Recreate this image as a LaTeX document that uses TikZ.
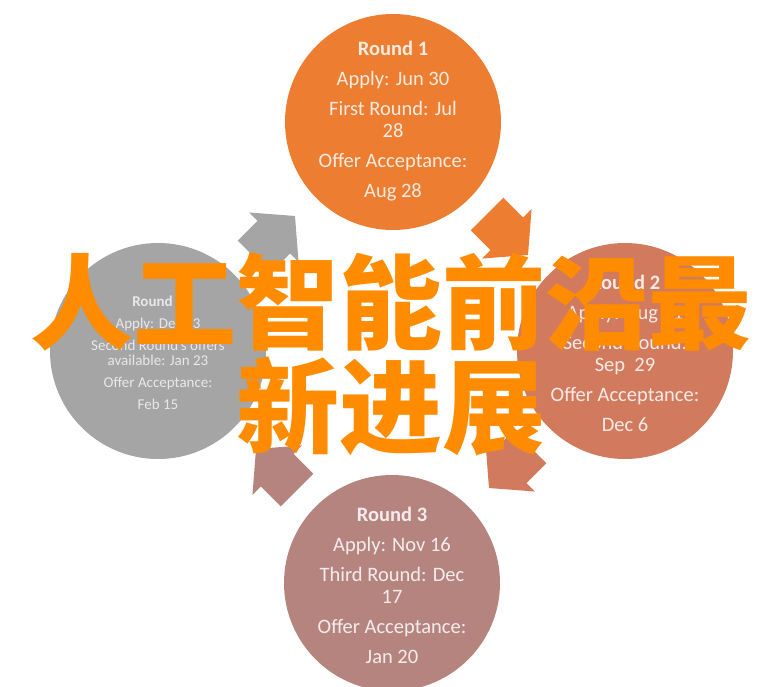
\documentclass[tikz,border=0pt]{standalone}
\usepackage{fontspec}
\setmainfont{Carlito}
\newfontfamily\cjk{Noto Sans CJK SC}
\begin{document}
\begin{tikzpicture}[x=1pt,y=-1pt]
\definecolor{cOrange}{HTML}{ED7D31}
\definecolor{cRust}{HTML}{D27A5D}
\definecolor{cRose}{HTML}{B5847F}
\definecolor{cGray}{HTML}{A5A5A5}
\definecolor{cTitle}{HTML}{FF8C00}
\tikzset{
  roundc/.style={circle,minimum size=216pt,inner sep=0pt},
  bigtxt/.style={align=center,text=white,text opacity=0.85,
    font=\fontsize{20.5}{22}\selectfont},
  smalltxt/.style={align=center,text=white,text opacity=0.75,
    font=\fontsize{15}{15}\selectfont},
  titletxt/.style={text=cTitle,font=\cjk\bfseries\fontsize{103}{103}\selectfont,inner sep=0pt}
}
\useasboundingbox (0,0) rectangle (778,687);
\clip (0,0) rectangle (778,687);
% circles
\node[roundc,fill=cOrange] (r1) at (393,122) {};
\node[roundc,fill=cRust] (r2) at (625,351) {};
\node[roundc,fill=cRose] (r3) at (392,583) {};
\node[roundc,fill=cGray] (r4) at (158,351) {};
% arrows
\foreach \cx/\cy/\ang/\col in {487/214/-45/cOrange, 530/447/-135/cRust, 297/490/135/cRose, 254/257/45/cGray}{
  \begin{scope}[shift={(\cx,\cy)},rotate=\ang,y=1pt]
    \fill[\col] (0,23) -- (28,23) -- (28,35) -- (58,0) -- (28,-35) -- (28,-23) -- (0,-23) -- cycle;
  \end{scope}
}
% circle texts
\node[bigtxt] (t1) at (393,121) {\textbf{Round 1}\\[8pt]Apply: Jun 30\\[8pt]First Round: Jul\\28\\[8pt]Offer Acceptance:\\[8pt]Aug 28};
\node[bigtxt] (t2) at (625,353) {\textbf{Round 2}\\[8pt]Apply: Aug 31\\[8pt]Second Round:\\Sep\ \ 29\\[8pt]Offer Acceptance:\\[8pt]Dec 6};
\node[bigtxt] (t3) at (392,585) {\textbf{Round 3}\\[8pt]Apply: Nov 16\\[8pt]Third Round: Dec\\17\\[8pt]Offer Acceptance:\\[8pt]Jan 20};
\node[smalltxt] (t4) at (158,353) {\textbf{Round 4}\\[7pt]Apply: Dec 23\\[7pt]Second Round's offers\\available: Jan 23\\[7pt]Offer Acceptance:\\[7pt]Feb 15};
% title overlay
\node[titletxt] (h1) at (391,302) {人工智能前沿最};
\node[titletxt] (h2) at (391,406) {新进展};
\end{tikzpicture}
\end{document}
